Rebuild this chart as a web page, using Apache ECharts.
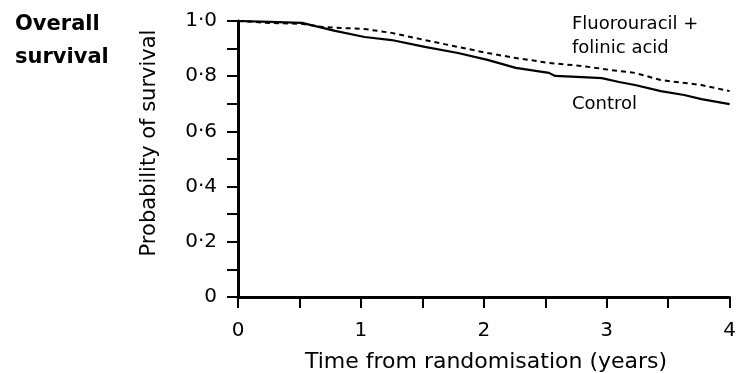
<!DOCTYPE html>
<html>
<head>
<meta charset="utf-8">
<script src="https://cdn.jsdelivr.net/npm/echarts@6/dist/echarts.min.js"></script>
<style>
html,body{margin:0;padding:0;background:#fff;}
#chart{width:739px;height:373px;}
</style>
</head>
<body>
<div id="chart"></div>
<script>
// Data
const controlTimes = [0, 0.26, 0.52, 0.79, 1.03, 1.25, 1.52, 1.79, 2.03, 2.26, 2.53, 2.58, 2.80, 2.96, 3.10, 3.23, 3.44, 3.63, 3.77, 4.0];
const controlSurv  = [1.0, 0.997, 0.993, 0.964, 0.942, 0.931, 0.906, 0.884, 0.859, 0.830, 0.812, 0.801, 0.797, 0.793, 0.779, 0.768, 0.746, 0.732, 0.717, 0.699];
const fuTimes = [0, 0.26, 0.52, 0.69, 1.03, 1.25, 1.52, 1.79, 2.03, 2.26, 2.53, 2.80, 3.04, 3.23, 3.44, 3.77, 4.0];
const fuSurv  = [1.0, 0.993, 0.99, 0.978, 0.971, 0.957, 0.931, 0.906, 0.884, 0.866, 0.848, 0.837, 0.822, 0.812, 0.786, 0.768, 0.746];
const xTickLabels = ['0', '1', '2', '3', '4'];
const yTickLabels = ['0', '0·2', '0·4', '0·6', '0·8', '1·0'];
const titleLines = ['Overall', 'survival'];
const seriesNames = ['Control', 'Fluorouracil + folinic acid'];

const FONT = 'DejaVu Sans';
const chart = echarts.init(document.getElementById('chart'), null, {renderer: 'canvas'});

function zip(a, b) { return a.map((v, i) => [v, b[i]]); }

function txt(text, x, y, size, extra) {
  return Object.assign({
    type: 'text', x: x, y: y,
    style: Object.assign({
      text: text, fontFamily: FONT, fontSize: size, fill: '#000',
      textAlign: 'left', textVerticalAlign: 'middle'
    }, (extra && extra.style) || {})
  }, (extra && extra.el) || {});
}

const option = {
  animation: false,
  backgroundColor: '#fff',
  grid: {left: 238, right: 5, top: 21, bottom: 76, containLabel: false},
  xAxis: {
    type: 'value', min: 0, max: 4, interval: 0.5,
    axisLine: {show: true, lineStyle: {color: '#000', width: 3}},
    axisTick: {show: true, inside: false, length: 11, lineStyle: {color: '#000', width: 2}},
    splitLine: {show: false},
    axisLabel: {
      margin: 24, color: '#000', fontFamily: FONT, fontSize: 20,
      formatter: v => (Math.abs(v - Math.round(v)) < 1e-6 ? xTickLabels[Math.round(v)] : '')
    }
  },
  yAxis: {
    type: 'value', min: 0, max: 1, interval: 0.1,
    axisLine: {show: true, lineStyle: {color: '#000', width: 3}},
    axisTick: {show: true, inside: false, length: 11, lineStyle: {color: '#000', width: 2}},
    splitLine: {show: false},
    axisLabel: {
      margin: 21, color: '#000', fontFamily: FONT, fontSize: 20,
      formatter: v => {
        const k = Math.round(v * 10);
        return k % 2 === 0 ? yTickLabels[k / 2] : '';
      }
    }
  },
  series: [
    {
      name: seriesNames[0], type: 'line', data: zip(controlTimes, controlSurv),
      showSymbol: false, symbol: 'none',
      lineStyle: {color: '#000', width: 2.2}
    },
    {
      name: seriesNames[1], type: 'line', data: zip(fuTimes, fuSurv),
      showSymbol: false, symbol: 'none',
      lineStyle: {color: '#000', width: 2, type: [5, 4]}
    }
  ],
  graphic: [
    txt(titleLines[0], 15, 25, 21, {style: {fontWeight: 'bold'}}),
    txt(titleLines[1], 15, 58, 21, {style: {fontWeight: 'bold'}}),
    txt('Probability of survival', 150, 143, 21, {style: {textAlign: 'center'}, el: {rotation: Math.PI / 2}}),
    txt('Time from randomisation (years)', 486, 362, 22, {style: {textAlign: 'center'}}),
    txt('Fluorouracil +', 572, 24, 18),
    txt('folinic acid', 572, 48, 18),
    txt('Control', 572, 104, 18)
  ]
};
chart.setOption(option);
</script>
</body>
</html>
